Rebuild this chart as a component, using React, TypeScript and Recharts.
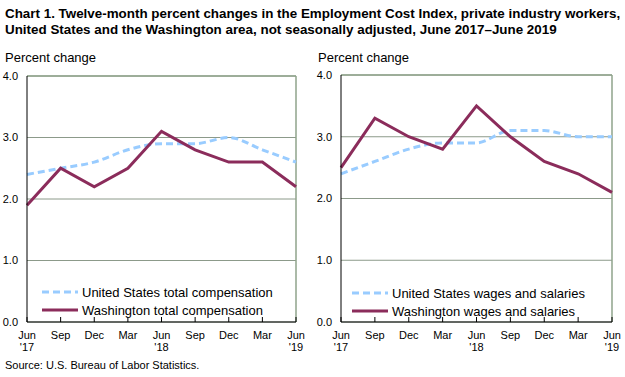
import { LineChart, Line, XAxis, YAxis, CartesianGrid, ReferenceLine } from "recharts";

const periods = ["Jun 2017", "Sep 2017", "Dec 2017", "Mar 2018", "Jun 2018", "Sep 2018", "Dec 2018", "Mar 2019", "Jun 2019"];
const monthLabels = ["Jun", "Sep", "Dec", "Mar", "Jun", "Sep", "Dec", "Mar", "Jun"];
const yearLabels = ["'17", "", "", "", "'18", "", "", "", "'19"];
const yTicks = [0, 1, 2, 3, 4];

const usTotalComp = [2.4, 2.5, 2.6, 2.8, 2.9, 2.9, 3.0, 2.8, 2.6];
const waTotalComp = [1.9, 2.5, 2.2, 2.5, 3.1, 2.8, 2.6, 2.6, 2.2];
const usWages = [2.4, 2.6, 2.8, 2.9, 2.9, 3.1, 3.1, 3.0, 3.0];
const waWages = [2.5, 3.3, 3.0, 2.8, 3.5, 3.0, 2.6, 2.4, 2.1];

const US_COLOR = "#99ccff";
const WA_COLOR = "#8b2c5b";
const BORDER = "#8fa38b";
const DASH = "7 4";
const FONT = "'Liberation Sans', Arial, sans-serif";

// x ticks: small tick pointing up into the plot, two-line label below
function MonthTick(props: any) {
  const { x, y, index } = props;
  return (
    <g>
      <line x1={x} x2={x} y1={y - 5} y2={y} stroke="#000" />
      <text x={x} y={y + 17} textAnchor="middle" fontSize={11} fill="#000" fontFamily={FONT}>
        {monthLabels[index]}
      </text>
      {yearLabels[index] && (
        <text x={x} y={y + 29} textAnchor="middle" fontSize={11} fill="#000" fontFamily={FONT}>
          {yearLabels[index]}
        </text>
      )}
    </g>
  );
}

function LegendBox({ usLabel, waLabel, left, top }: { usLabel: string; waLabel: string; left: number; top: number }) {
  const row = (dashed: boolean, color: string, label: string) => (
    <div style={{ display: "flex", alignItems: "center", height: 18 }}>
      <svg width={40} height={10}>
        <line x1={0} x2={36} y1={5} y2={5} stroke={color} strokeWidth={3} strokeDasharray={dashed ? DASH : undefined} />
      </svg>
      <span style={{ fontSize: 13, fontFamily: FONT, color: "#000", whiteSpace: "nowrap" }}>{label}</span>
    </div>
  );
  return (
    <div style={{ position: "absolute", left, top }}>
      {row(true, US_COLOR, usLabel)}
      {row(false, WA_COLOR, waLabel)}
    </div>
  );
}

function Panel({
  us,
  wa,
  width,
  yWidth,
  marginRight,
  marginTop,
}: {
  us: number[];
  wa: number[];
  width: number;
  yWidth: number;
  marginRight: number;
  marginTop: number;
}) {
  const data = periods.map((p, i) => ({ period: p, us: us[i], wa: wa[i] }));
  return (
    <LineChart width={width} height={300} data={data} margin={{ top: marginTop, right: marginRight, left: 0, bottom: 0 }}>
      <CartesianGrid horizontal vertical={false} stroke="#8c9a8a" />
      <ReferenceLine y={4} stroke={BORDER} strokeWidth={1.5} />
      <ReferenceLine x={periods[periods.length - 1]} stroke={BORDER} strokeWidth={1.5} />
      <XAxis
        dataKey="period"
        stroke="#000"
        tickLine={false}
        tickSize={0}
        tickMargin={0}
        height={44}
        interval={0}
        tick={<MonthTick />}
      />
      <YAxis
        domain={[0, 4]}
        ticks={yTicks}
        width={yWidth}
        stroke="#000"
        tickLine={false}
        tickSize={0}
        tickMargin={9}
        tickFormatter={(v: number) => v.toFixed(1)}
        tick={{ fontSize: 11, fill: "#000", fontFamily: FONT }}
      />
      <Line type="monotone" dataKey="us" stroke={US_COLOR} strokeWidth={3} strokeDasharray={DASH} dot={false} isAnimationActive={false} />
      <Line type="linear" dataKey="wa" stroke={WA_COLOR} strokeWidth={3} dot={false} isAnimationActive={false} />
    </LineChart>
  );
}

export default function App() {
  return (
    <div
      style={{
        position: "fixed",
        left: 0,
        top: 0,
        width: 625,
        height: 377,
        background: "#fff",
        fontFamily: FONT,
        color: "#000",
      }}
    >
      <div style={{ position: "absolute", left: 5, top: 6, fontSize: 13.4, fontWeight: "bold", lineHeight: "16px", whiteSpace: "nowrap" }}>
        Chart 1. Twelve-month percent changes in the Employment Cost Index, private industry workers,
        <br />
        United States and the Washington area, not seasonally adjusted, June 2017–June 2019
      </div>
      <div style={{ position: "absolute", left: 5, top: 50, fontSize: 13 }}>Percent change</div>
      <div style={{ position: "absolute", left: 318, top: 50, fontSize: 13 }}>Percent change</div>

      <div style={{ position: "absolute", left: 0, top: 66 }}>
        <Panel us={usTotalComp} wa={waTotalComp} width={310} yWidth={27} marginRight={14} marginTop={10} />
      </div>
      <div style={{ position: "absolute", left: 310, top: 66 }}>
        <Panel us={usWages} wa={waWages} width={315} yWidth={31} marginRight={13} marginTop={9} />
      </div>

      <LegendBox usLabel="United States total compensation" waLabel="Washington total compensation" left={42} top={283} />
      <LegendBox usLabel="United States wages and salaries" waLabel="Washington wages and salaries" left={352} top={284} />

      <div style={{ position: "absolute", left: 5, top: 359, fontSize: 11 }}>Source: U.S. Bureau of Labor Statistics.</div>
    </div>
  );
}
